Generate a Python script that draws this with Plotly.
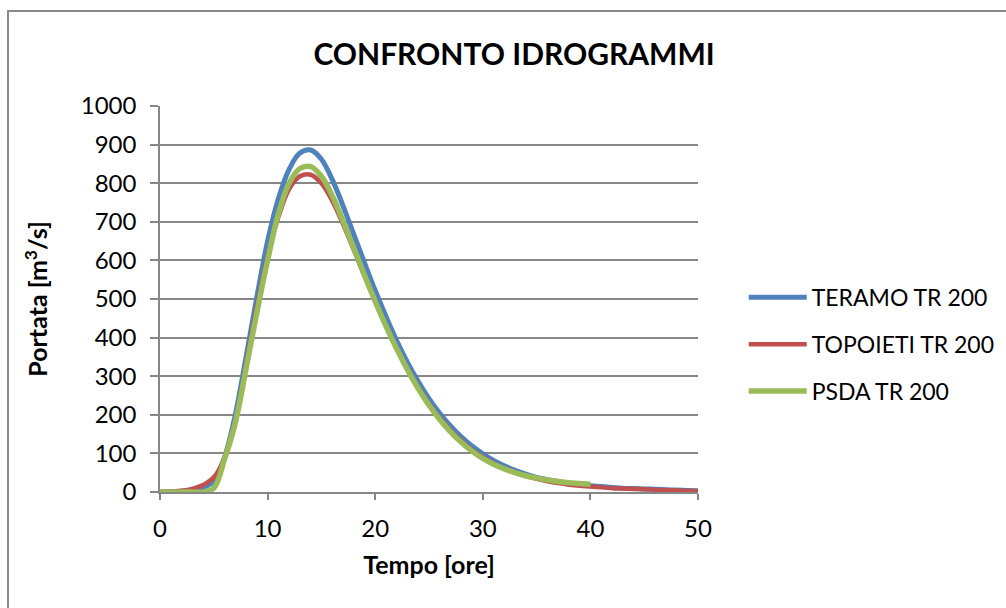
import plotly.graph_objects as go

# Time [hours]
t_teramo = list(range(0, 51))
t_topoieti = list(range(0, 51))
t_psda = list(range(0, 41))

teramo = [0, 1, 2, 5, 11, 28, 90, 200, 350, 505, 650, 760, 836, 878, 886, 862, 810, 742, 668, 594,
          522, 455, 392, 336, 286, 242, 204, 171, 143, 119, 99, 82, 68, 56, 46, 38, 32, 27, 23, 19,
          16, 14, 12, 10, 9, 8, 7, 6, 5, 4, 3]
topoieti = [0, 1, 3, 8, 18, 38, 88, 180, 330, 478, 610, 712, 785, 818, 822, 800, 755, 695, 628, 560,
            494, 431, 372, 318, 270, 228, 191, 159, 132, 109, 90, 74, 61, 50, 41, 34, 28, 23, 19, 16,
            14, 12, 10, 9, 8, 7, 6, 5, 4, 3, 2]
psda = [0, 0, 0, 0, 0, 10, 85, 180, 320, 465, 600, 720, 800, 838, 843, 818, 768, 703, 633, 562,
        494, 430, 371, 317, 268, 225, 188, 156, 129, 106, 87, 72, 60, 50, 42, 36, 31, 27, 24, 22, 20]

names = ["TERAMO TR 200", "TOPOIETI TR 200", "PSDA TR 200"]
colors = ["#4F81BD", "#C0504D", "#9BBB59"]
widths = [5, 4.5, 5.5]

FONT = "Lato"
fig = go.Figure()
for i, (x, y) in enumerate([(t_teramo, teramo), (t_topoieti, topoieti), (t_psda, psda)]):
    fig.add_trace(go.Scatter(x=x, y=y, mode="lines", name=names[i], legendgroup=str(i),
                             line=dict(color=colors[i], width=widths[i], shape="spline", smoothing=1)))

grid = "#878787"
fig.update_layout(
    width=1006, height=608,
    margin=dict(l=160, r=308, t=106, b=116, autoexpand=False),
    paper_bgcolor="white", plot_bgcolor="white",
    font=dict(family=FONT, size=24, color="black"),
    title=dict(text="<b>CONFRONTO IDROGRAMMI</b>", x=0.511, xanchor="center", y=0.91, yanchor="middle",
               font=dict(size=30, family=FONT, color="black")),
    showlegend=True,
    legend=dict(x=1.085, xanchor="left", y=0.56, yanchor="top", tracegroupgap=14, itemwidth=58,
                font=dict(size=23, family=FONT, color="black"), bgcolor="rgba(0,0,0,0)"),
    xaxis=dict(range=[0, 50], tickmode="array", tickvals=[0, 10, 20, 30, 40, 50],
               showgrid=False, zeroline=False, showline=True, linecolor=grid, linewidth=1.5,
               ticks="outside", ticklen=6, tickcolor=grid, tickwidth=1.5, ticklabelstandoff=8,
               title=dict(text="<b>Tempo [ore]</b>", standoff=16, font=dict(size=25, family=FONT))),
    yaxis=dict(range=[0, 1000], tickmode="array", tickvals=list(range(0, 1001, 100)),
               showgrid=True, gridcolor=grid, gridwidth=1.5, zeroline=False,
               showline=True, linecolor=grid, linewidth=1.5,
               ticks="outside", ticklen=8, tickcolor=grid, tickwidth=1.5, ticklabelstandoff=9,
               title=dict(text="<b>Portata [m<sup>3</sup>/s]</b>", standoff=26, font=dict(size=25, family=FONT))),
)

fig.add_shape(type="rect", xref="paper", yref="paper",
              x0=(8 - 160) / 538, x1=(1012 - 160) / 538, y0=(492 - 614) / 386, y1=(492 - 11) / 386,
              line=dict(color="#8a8a8a", width=2), fillcolor="rgba(0,0,0,0)", layer="below")

fig.write_html("out.html")
